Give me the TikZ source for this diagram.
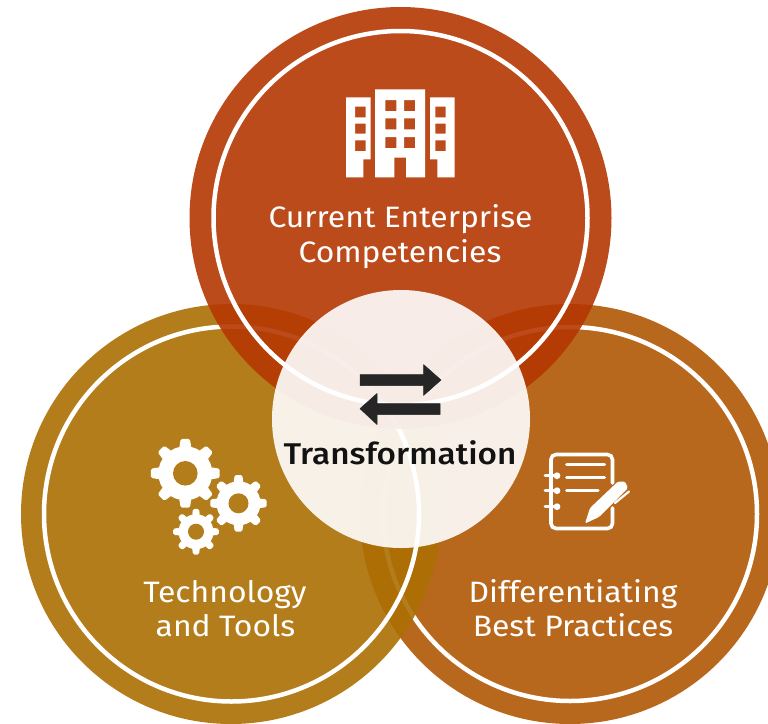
\documentclass[tikz,border=0pt]{standalone}
\usepackage{fontspec}
\setmainfont{Fira Sans}
\newfontfamily\labelfont[FakeStretch=1.08]{Fira Sans}
\newfontfamily\titlefont[FakeStretch=1.11]{Fira Sans Medium}
\definecolor{topfill}{RGB}{181,55,2}
\definecolor{leftfill}{RGB}{171,111,3}
\definecolor{leftseen}{RGB}{179,125,28}
\definecolor{rightfill}{RGB}{184,104,28}
\definecolor{arrowdark}{RGB}{38,38,38}
\definecolor{titledark}{RGB}{18,18,18}
\tikzset{
  disc/.style={fill opacity=0.9},
  ring/.style={draw=white,line width=4.5pt},
  hub/.style={fill=white,fill opacity=0.9},
  caption/.style={text=white,font=\labelfont\fontsize{29.5}{29.5}\selectfont,anchor=base,inner sep=0pt},
  title/.style={text=titledark,font=\titlefont\fontsize{30}{30}\selectfont,anchor=base,inner sep=0pt},
  icon/.style={fill=white},
  iconline/.style={draw=white,line width=3.2pt,line cap=round},
  swap/.style={fill=arrowdark,draw=arrowdark,line width=0.5pt,line join=round}
}
\newcommand{\cogwheel}[6]{% cx cy outer root hole teeth
  \begin{scope}[shift={(#1,#2)}]
    \pgfmathsetmacro{\st}{360/#6}
    \fill[icon] (0,0) circle (#4);
    \foreach \k in {1,...,#6}{
      \pgfmathsetmacro{\ang}{90+(\k-1)*\st}
      \pgfmathsetmacro{\aa}{\ang-0.30*\st}
      \pgfmathsetmacro{\ab}{\ang-0.17*\st}
      \pgfmathsetmacro{\ac}{\ang+0.17*\st}
      \pgfmathsetmacro{\ad}{\ang+0.30*\st}
      \fill[icon,rounded corners=1.5pt] (\aa:#4-1) -- (\ab:#3) -- (\ac:#3) -- (\ad:#4-1) -- cycle;
    }
    \fill[leftseen] (0,0) circle (#5);
  \end{scope}}
\begin{document}
\begin{tikzpicture}[x=1pt,y=-1pt]
\useasboundingbox (0,0) rectangle (768,723);
\clip (0,0) rectangle (768,723);
% right
\fill[rightfill] (570,514) circle (210);
\draw[ring] (570,514) circle (187);
% left
\fill[leftfill,disc] (231,514) circle (210);
\draw[ring] (231.5,514) circle (187.5);
% top
\fill[topfill,disc] (400.5,218) circle (211);
\draw[ring] (400.5,218) circle (187);
% centre
\fill[hub] (401,419) circle (129);
% swap arrows
\path[swap,draw] (360,374.5) -- (423.5,374.5) -- (423.5,364.5) -- (441,380) -- (423.5,395.5) -- (423.5,385.5) -- (360,385.5) -- cycle;
\path[swap,draw] (440,403.5) -- (377,403.5) -- (377,393.5) -- (360,408.7) -- (377,424.5) -- (377,414.5) -- (440,414.5) -- cycle;
% building
\fill[icon,even odd rule]
  (346,97.3) -- (370.7,97.3) -- (370.7,159.3) -- (363.3,159.3) -- (363.3,177.3) -- (346,177.3) -- cycle
  (355,106.7) rectangle (365.7,117.3) (355,123.7) rectangle (365.7,133.7) (355,140.3) rectangle (365.7,151)
  (375,89.3) -- (425,89.3) -- (425,177.3) -- (406,177.3) -- (406,157.7) -- (394.3,157.7) -- (394.3,177.3) -- (375,177.3) -- cycle
  (385.3,100) rectangle (396.3,111) (404,100) rectangle (415,111)
  (385.3,118.3) rectangle (396.3,129.3) (404,118.3) rectangle (415,129.3)
  (385.3,137) rectangle (396.3,148) (404,137) rectangle (415,148)
  (430,97.3) -- (454.7,97.3) -- (454.7,177.3) -- (437.3,177.3) -- (437.3,159.3) -- (430,159.3) -- cycle
  (435.3,106.7) rectangle (445.7,117.3) (435.3,123.7) rectangle (445.7,133.7) (435.3,140.3) rectangle (445.7,151);
% gears
\cogwheel{185.3}{473.3}{34.7}{27}{12.3}{8}
\cogwheel{238.5}{503.3}{28.5}{22}{10}{8}
\cogwheel{196}{531.7}{23}{17.5}{8}{8}
% notebook
\draw[iconline,line width=3.6pt,rounded corners=5pt]
  (612.5,483) -- (612.5,454.5) -- (551,454.5) -- (551,528.5) -- (612.5,528.5) -- (612.5,508);
\draw[iconline,line width=3pt] (566.5,464) -- (604.5,464) (566.5,477.7) -- (604.5,477.7) (566.5,490.7) -- (598,490.7);
\foreach \yy in {475.7,490.7,506.7}{
  \draw[iconline,line width=2.8pt] (545,\yy) -- (557,\yy);
  \fill[icon] (557,\yy) circle (3.4);
}
\fill[icon,rounded corners=1.5pt] (585,523.5) -- (590,508) -- (618,481.5) -- (625,481.5) -- (628,488) -- (599,517) -- cycle;
\draw[iconline,line width=2.2pt] (615,503) -- (629,491.5);
% labels
\node[caption] (ce1) at (400.5,227) {Current Enterprise};
\node[caption] (ce2) at (400,262) {Competencies};
\node[caption] (tt1) at (225,602) {Technology};
\node[caption] (tt2) at (225.5,636) {and Tools};
\node[caption] (db1) at (573,602) {Differentiating};
\node[caption] (db2) at (573,636) {Best Practices};
\node[title] (tr) at (400,464) {Transformation};
\end{tikzpicture}
\end{document}
